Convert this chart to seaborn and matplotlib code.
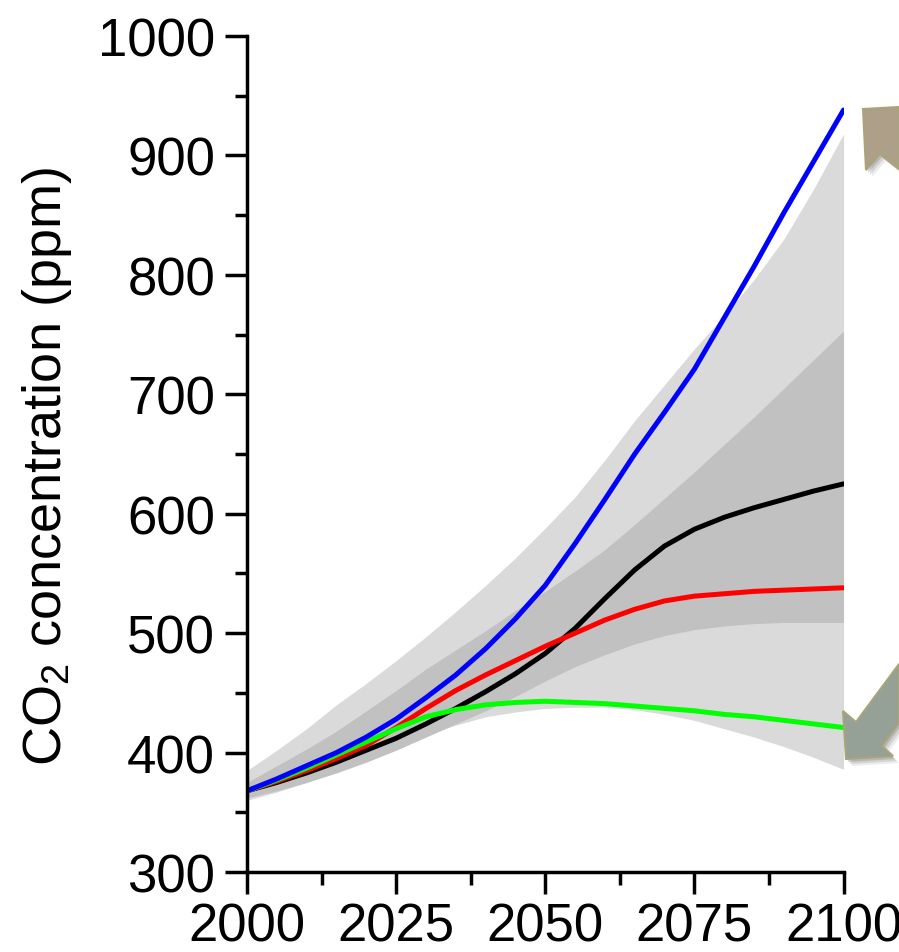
import numpy as np
import pandas as pd
import matplotlib
matplotlib.use('Agg')
import matplotlib.pyplot as plt
from matplotlib.patches import Polygon
from matplotlib.ticker import MultipleLocator
import seaborn as sns

#%% data
years = [2000, 2005, 2010, 2015, 2020, 2025, 2030, 2035, 2040, 2045, 2050,
         2055, 2060, 2065, 2070, 2075, 2080, 2085, 2090, 2095, 2100]

blue  = [368, 378, 389, 400, 413, 428, 446, 465, 487, 512, 540,
         575, 612, 650, 685, 721, 764, 807, 852, 895, 938]
black = [368, 375, 383, 392, 402, 412, 424, 437, 451, 466, 483,
         504, 529, 553, 573, 587, 597, 605, 612, 619, 625]
red   = [368, 376, 385, 395, 406, 421, 437, 452, 465, 477, 489,
         500, 511, 520, 527, 531, 533, 535, 536, 537, 538]
green = [368, 377, 387, 398, 409, 420, 430, 436, 440, 442, 443,
         442, 441, 439, 437, 435, 432, 430, 427, 424, 421]

outer_hi = [385, 402, 420, 440, 458, 477, 497, 518, 540, 563, 588,
            614, 645, 678, 708, 738, 766, 796, 830, 872, 918]
outer_lo = [360, 367, 375, 385, 396, 406, 415, 423, 430, 434, 437,
            438, 438, 436, 432, 427, 420, 413, 405, 396, 386]
inner_hi = [375, 389, 403, 418, 435, 452, 470, 486, 502, 519, 535,
            552, 570, 591, 613, 635, 658, 681, 705, 729, 753]
inner_lo = [362, 368, 375, 383, 392, 402, 413, 424, 435, 447, 460,
            472, 482, 491, 498, 503, 506, 508, 509, 509, 509]

scenarios = ['black', 'red', 'green', 'blue']
palette = {'black': '#000000', 'red': '#ff0000', 'green': '#00ff00', 'blue': '#0000ff'}

#%% long table for seaborn
df = pd.DataFrame({'year': years * 4,
                   'co2': black + red + green + blue,
                   'scenario': np.repeat(scenarios, len(years))})

sns.set_theme(style='ticks')
plt.rcParams['font.family'] = ['Liberation Sans', 'DejaVu Sans']
plt.rcParams['mathtext.default'] = 'regular'

fig = plt.figure(figsize=(8.99, 9.53), dpi=100)
ax = fig.add_axes([0.2747, 0.0839, 0.6636, 0.8773])

ax.fill_between(years, outer_lo, outer_hi, color='#dadada', lw=0)
ax.fill_between(years, inner_lo, inner_hi, color='#c1c1c1', lw=0)

sns.lineplot(data=df, x='year', y='co2', hue='scenario', hue_order=scenarios,
             palette=palette, linewidth=3.6, legend=False, ax=ax)

ax.set_xlim(2000, 2100)
ax.set_ylim(300, 1000)
ax.xaxis.set_major_locator(MultipleLocator(25))
ax.xaxis.set_minor_locator(MultipleLocator(12.5))
ax.yaxis.set_major_locator(MultipleLocator(100))
ax.yaxis.set_minor_locator(MultipleLocator(50))

for s in ['top', 'right']:
    ax.spines[s].set_visible(False)
for s in ['left', 'bottom']:
    ax.spines[s].set_linewidth(2.5)
    ax.spines[s].set_color('black')

ax.tick_params(which='major', length=16, width=2.5, color='black',
               labelsize=38, labelcolor='black')
ax.tick_params(axis='y', which='major', pad=7)
ax.tick_params(axis='x', which='major', pad=5)
ax.tick_params(which='minor', length=9, width=2.5, color='black')

ax.set_xlabel('')
ax.set_ylabel('CO$_2$ concentration (ppm)', fontsize=39, color='black')
ax.yaxis.set_label_coords(-0.29, 0.486)

#%% decorative arrows at the right edge (pixel coords -> figure fraction)
W, H = 899, 953
def px(pts):
    return [(x / W, 1 - y / H) for x, y in pts]

tan = [(863, 110), (899, 108), (899, 170), (880, 155), (866, 171)]
dwn = [(846, 760), (843, 712), (856, 723), (899, 665), (899, 724), (882, 747), (893, 757)]

for pts, fc in [(tan, '#ae9f88'), (dwn, '#95a096')]:
    for k, a in [(6, 0.12), (4, 0.18), (2, 0.25)]:
        sh = [(x + k, y + k + 1) for x, y in pts]
        fig.patches.append(Polygon(px(sh), closed=True, transform=fig.transFigure,
                                   fc='#666666', ec='none', alpha=a, zorder=1))
    fig.patches.append(Polygon(px(pts), closed=True, transform=fig.transFigure,
                               fc=fc, ec='#a9a47a', lw=1.5, zorder=2))

fig.savefig('out.png', dpi=100)
